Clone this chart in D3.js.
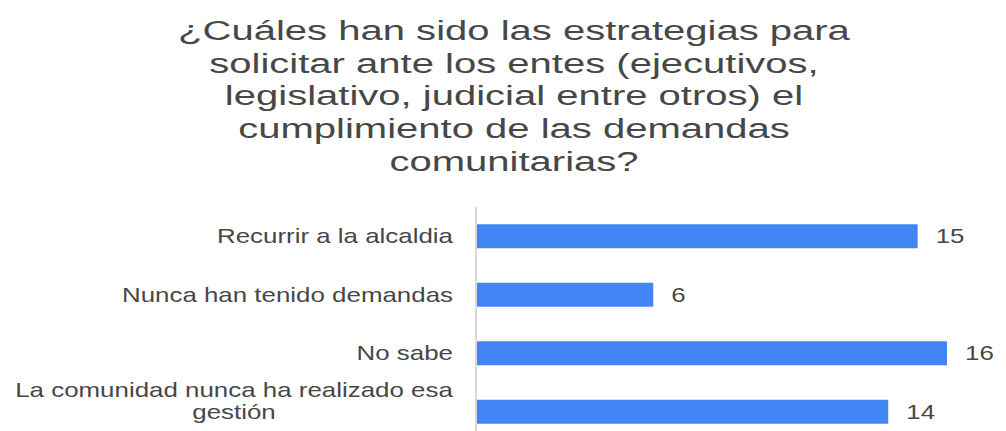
<!DOCTYPE html>
<html>
<head>
<meta charset="utf-8">
<script src="https://cdn.jsdelivr.net/npm/d3@7"></script>
<style>
  html, body { margin: 0; padding: 0; background: #ffffff; }
  svg { display: block; }
  text { font-family: "Liberation Sans", Arial, sans-serif; }
</style>
</head>
<body>
<svg id="chart" width="1006" height="431"></svg>
<script>
// ---- Data ----
const titleLines = [
  "¿Cuáles han sido las estrategias para",
  "solicitar ante los entes (ejecutivos,",
  "legislativo, judicial entre otros) el",
  "cumplimiento de las demandas",
  "comunitarias?"
];
const categories = [
  "Recurrir a la alcaldia",
  "Nunca han tenido demandas",
  "No sabe",
  "La comunidad nunca ha realizado esa gestión"
];
const categoryLines = [
  ["Recurrir a la alcaldia"],
  ["Nunca han tenido demandas"],
  ["No sabe"],
  ["La comunidad nunca ha realizado esa", "gestión"]
];
const values = [15, 6, 16, 14];

// ---- Layout ----
const W = 1006, H = 431;
const svg = d3.select("#chart");
const barColor = "#4285f4";
const textColor = "#474747";

const x = d3.scaleLinear().domain([0, 16]).range([477, 947]);
const y = d3.scaleBand().domain(categories).range([207, 441])
  .paddingInner(0.59).paddingOuter(0.295);

// Title
const titleG = svg.append("g");
const titleSize = 28;
const titleBaselines = [40, 72.5, 105, 138, 171];
const tt = titleG.selectAll("text").data(titleLines).enter().append("text")
  .attr("text-anchor", "middle")
  .attr("font-size", titleSize)
  .attr("fill", textColor)
  .text(d => d);
const w0 = tt.nodes()[0].getComputedTextLength();
const titleSx = 672 / w0;
tt.attr("transform", (d, i) => `translate(514,${titleBaselines[i]}) scale(${titleSx},1)`);

// Axis line (vertical baseline)
svg.append("line")
  .attr("x1", x(0) - 1).attr("x2", x(0) - 1)
  .attr("y1", 207).attr("y2", H)
  .attr("stroke", "#cccccc").attr("stroke-width", 1.5);

// Bars
svg.append("g").selectAll("rect").data(values).enter().append("rect")
  .attr("x", x(0))
  .attr("y", (d, i) => y(categories[i]))
  .attr("width", d => x(d) - x(0))
  .attr("height", y.bandwidth())
  .attr("fill", barColor);

// Category labels
const labelSize = 20;
const labelRight = 453;
const probe = svg.append("text").attr("font-size", labelSize).text(categoryLines[3][0]);
const longW = probe.node().getComputedTextLength();
probe.remove();
const labelSx = 438 / longW;

const labG = svg.append("g");
categoryLines.forEach((lines, i) => {
  const cy = y(categories[i]) + y.bandwidth() / 2;
  if (lines.length === 1) {
    labG.append("text")
      .attr("text-anchor", "end")
      .attr("font-size", labelSize)
      .attr("fill", textColor)
      .attr("transform", `translate(${labelRight},${cy + 7}) scale(${labelSx},1)`)
      .text(lines[0]);
  } else {
    const blockW = longW * labelSx;
    const centerX = labelRight - blockW / 2;
    lines.forEach((ln, j) => {
      labG.append("text")
        .attr("text-anchor", "middle")
        .attr("font-size", labelSize)
        .attr("fill", textColor)
        .attr("transform", `translate(${centerX},${cy - 15 + j * 22}) scale(${labelSx},1)`)
        .text(ln);
    });
  }
});

// Value labels
svg.append("g").selectAll("text").data(values).enter().append("text")
  .attr("font-size", labelSize)
  .attr("fill", textColor)
  .attr("transform", (d, i) => `translate(${x(d) + 18},${y(categories[i]) + y.bandwidth() / 2 + 7}) scale(${labelSx},1)`)
  .text(d => d);
</script>
</body>
</html>
